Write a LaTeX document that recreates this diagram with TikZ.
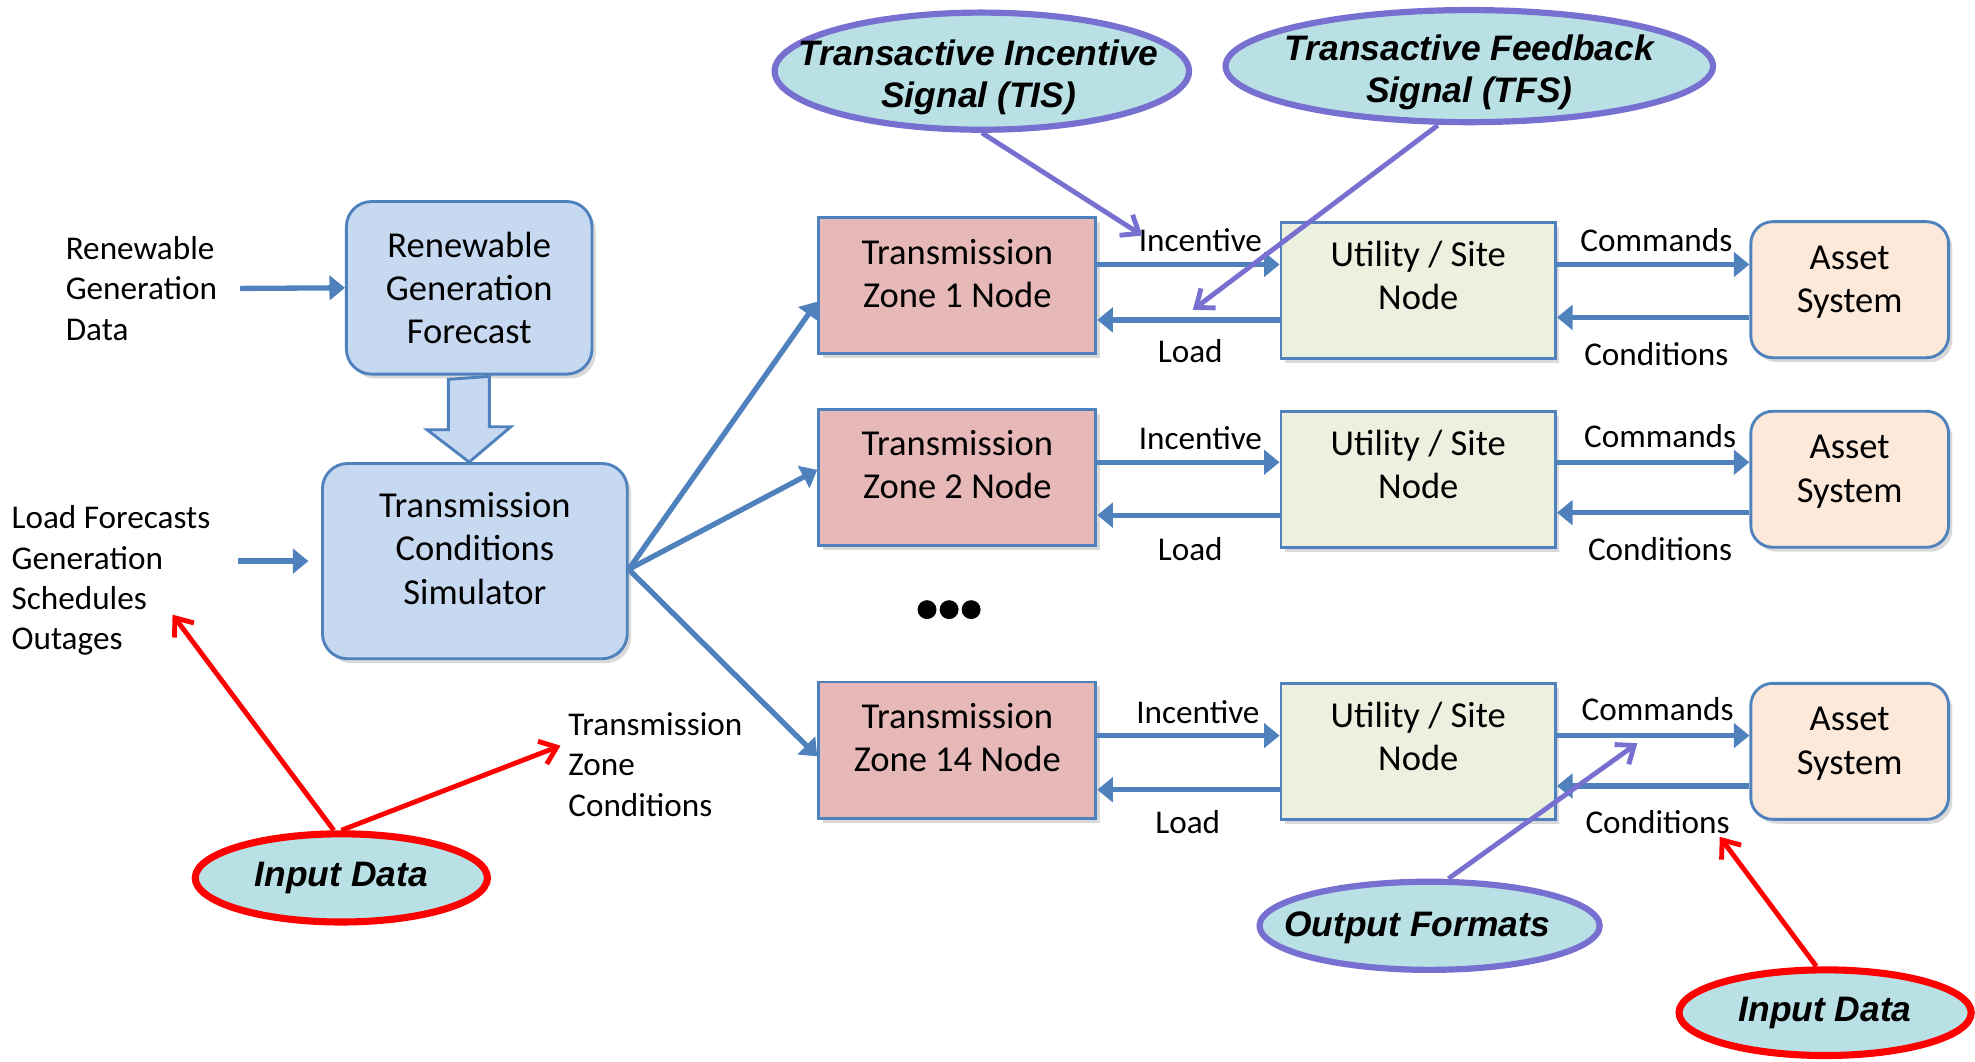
\documentclass[tikz,border=0pt]{standalone}
\usepackage{fontspec}
\setmainfont{Carlito}
\newfontfamily\calloutfont{Liberation Sans}
\usetikzlibrary{arrows.meta,shapes.geometric,shadows}

\definecolor{flowblue}{RGB}{79,129,189}
\definecolor{simfill}{RGB}{198,217,241}
\definecolor{zonefill}{RGB}{230,185,184}
\definecolor{sitefill}{RGB}{235,241,222}
\definecolor{assetfill}{RGB}{253,233,217}
\definecolor{bubblefill}{RGB}{185,224,228}
\definecolor{bubbleline}{RGB}{120,112,208}

\tikzset{
    flow/.style={line width=2.4pt, draw=flowblue, -{Triangle[width=11pt,length=7pt]}},
    boxshadow/.style={drop shadow={shadow xshift=0.6mm, shadow yshift=-0.7mm, opacity=0.3}},
    simbox/.style={draw=flowblue, line width=1.3pt, fill=simfill, rounded corners=0.4cm, boxshadow},
    zonebox/.style={draw=flowblue, line width=1.3pt, fill=zonefill, minimum width=4.4cm, minimum height=2.16cm, boxshadow},
    sitebox/.style={draw=flowblue, line width=1.3pt, fill=sitefill, minimum width=4.36cm, minimum height=2.16cm, boxshadow},
    assetbox/.style={draw=flowblue, line width=1.3pt, fill=assetfill, rounded corners=0.35cm, minimum width=3.14cm, minimum height=2.16cm, boxshadow},
    boxtext/.style={align=center, font=\fontsize{16.5}{19.5}\selectfont},
    sidetext/.style={align=left, font=\fontsize{15}{18.2}\selectfont},
    lbl/.style={font=\fontsize{15}{18}\selectfont, inner sep=1pt},
    bubble/.style={ellipse, draw=bubbleline, line width=2.8pt, fill=bubblefill, inner sep=0pt},
    redbubble/.style={bubble, draw=red, line width=3.2pt},
    bubbletext/.style={align=center, font=\calloutfont\bfseries\itshape\fontsize{16}{19}\selectfont},
    callout/.style={line width=2.2pt, draw=bubbleline, -{Straight Barb[width=11pt,length=7pt]}},
    redcallout/.style={callout, draw=red},
}

\begin{document}
\begin{tikzpicture}[x=0.2mm, y=-0.2mm]
\useasboundingbox (0,0) rectangle (1568,843);

% inputs and simulator
\node[sidetext, anchor=west] (rgdata) at (46,229) {Renewable\\Generation\\Data};
\node[simbox, minimum width=3.9cm, minimum height=2.74cm, label={[boxtext]center:Renewable\\Generation\\Forecast}] (rgf) at (372.5,228.5) {};
\node[simbox, minimum width=4.84cm, minimum height=3.1cm, label={[boxtext, yshift=0.2cm]center:Transmission\\Conditions\\Simulator}] (tcs) at (377,445.5) {};
\node[sidetext, anchor=west] (loadtxt) at (3,461) {Load Forecasts\\Generation\\Schedules\\Outages};
\node[sidetext, anchor=west] (tzc) at (445,607) {Transmission\\Zone\\Conditions};

\coordinate (lfin) at (loadtxt.east |- tcs.west);
\draw[flow] ([xshift=0.24cm]rgdata.east) -- (rgf.west);
\draw[flow] ([xshift=0.32cm]lfin) -- ([xshift=-0.2cm]tcs.west);
\filldraw[fill=simfill, draw=flowblue, line width=1.3pt] ([xshift=-3.3mm]rgf.south) ++(0,3) -- ++(0,40) -- ++(-17,0) -- (rgf.south |- tcs.north) -- ++(33,-28) -- ++(-17,0) -- ++(0,-40) -- cycle;

% zone rows
\node[zonebox, label={[boxtext, yshift=0.2cm]center:Transmission\\Zone 1 Node}] (tz1) at (760,227) {};
\node[zonebox, label={[boxtext, yshift=0.2cm]center:Transmission\\Zone 2 Node}] (tz2) at (760,379) {};
\node[zonebox, label={[boxtext, yshift=0.2cm]center:Transmission\\Zone 14 Node}] (tz14) at (760,595.5) {};

\node[sitebox, label={[boxtext, yshift=0.24cm]center:Utility / Site\\Node}] (u1) at (1126,230.5) {};
\node[sitebox, label={[boxtext, yshift=0.24cm]center:Utility / Site\\Node}] (u2) at (1126,380.5) {};
\node[sitebox, label={[boxtext, yshift=0.24cm]center:Utility / Site\\Node}] (u14) at (1126,596.5) {};

\node[assetbox, label={[boxtext, yshift=0.12cm]center:Asset\\System}] (as1) at (1468.5,230) {};
\node[assetbox, label={[boxtext, yshift=0.12cm]center:Asset\\System}] (as2) at (1468.5,380.5) {};
\node[assetbox, label={[boxtext, yshift=0.12cm]center:Asset\\System}] (as14) at (1468.5,596.5) {};

\coordinate (fan) at ([yshift=-0.13cm]tcs.east);
\draw[flow] (fan) -- ([yshift=-0.25cm]tz1.west);
\draw[flow] (fan) -- ([yshift=0.12cm]tz2.west);
\draw[flow] (fan) -- ([yshift=-0.1cm]tz14.west);

\draw[flow] (tz1.east |- 0,210) -- (u1.west |- 0,210);
\draw[flow] (u1.west |- 0,254) -- (tz1.east |- 0,254);
\draw[flow] (u1.east |- 0,210) -- (as1.west |- 0,210);
\draw[flow] (as1.west |- 0,252) -- (u1.east |- 0,252);

\draw[flow] (tz2.east |- 0,367) -- (u2.west |- 0,367);
\draw[flow] (u2.west |- 0,409) -- (tz2.east |- 0,409);
\draw[flow] (u2.east |- 0,367) -- (as2.west |- 0,367);
\draw[flow] (as2.west |- 0,407) -- (u2.east |- 0,407);

\draw[flow] (tz14.east |- 0,584) -- (u14.west |- 0,584);
\draw[flow] (u14.west |- 0,627) -- (tz14.east |- 0,627);
\draw[flow] (u14.east |- 0,584) -- (as14.west |- 0,584);
\draw[flow] (as14.west |- 0,624) -- (u14.east |- 0,624);

\node[lbl] (inc1) at (953,191) {Incentive};
\node[lbl] (load1) at (945,279) {Load};
\node[lbl] (cmd1) at (1315,191) {Commands};
\node[lbl] (cond1) at (1315,281) {Conditions};
\node[lbl] (inc2) at (953,348) {Incentive};
\node[lbl] (load2) at (945,436) {Load};
\node[lbl] (cmd2) at (1318,346) {Commands};
\node[lbl] (cond2) at (1318,436) {Conditions};
\node[lbl] (inc14) at (951,565) {Incentive};
\node[lbl] (load14) at (943,653) {Load};
\node[lbl] (cmd14) at (1316,563) {Commands};
\node[lbl] (cond14) at (1316,653) {Conditions};

% more zones
\fill (736,484) circle (0.15cm) (753.5,484) circle (0.15cm) (771,484) circle (0.15cm);

% callouts
\node[bubble, minimum width=6.58cm, minimum height=1.86cm, label={[bubbletext, yshift=-0.1cm, xshift=-0.05cm]center:Transactive Incentive\\Signal (TIS)}] (tis) at (779.5,56.5) {};
\node[bubble, minimum width=7.74cm, minimum height=1.78cm, label={[bubbletext, yshift=-0.1cm]center:Transactive Feedback\\Signal (TFS)}] (tfs) at (1166.5,52.5) {};
\node[redbubble, minimum width=4.64cm, minimum height=1.4cm, label={[bubbletext]center:Input Data}] (indata) at (271,697) {};
\node[bubble, minimum width=5.4cm, minimum height=1.4cm, label={[bubbletext, yshift=-0.03cm, xshift=-0.2cm]center:Output Formats}] (outfmt) at (1135,735) {};
\node[redbubble, minimum width=4.64cm, minimum height=1.36cm, label={[bubbletext]center:Input Data}] (indata2) at (1449,804) {};

\coordinate (tfstip) at (947,246);
\coordinate (inputtip) at (137,488);
\coordinate (outtip) at (1300,590);

\draw[callout] (tis.south) -- ([xshift=0.1cm,yshift=0.08cm]inc1.west);
\draw[callout] ([xshift=-0.5cm]tfs.south) -- (tfstip);
\draw[redcallout] ([xshift=-0.12cm]indata.north) -- (inputtip);
\draw[redcallout] (indata.north) -- ([yshift=0.3cm]tzc.west);
\draw[callout] ([xshift=0.3cm]outfmt.north) -- (outtip);
\draw[redcallout] ([xshift=-0.14cm]indata2.north) -- ([xshift=-0.2cm]cond14.south east);

\end{tikzpicture}
\end{document}
